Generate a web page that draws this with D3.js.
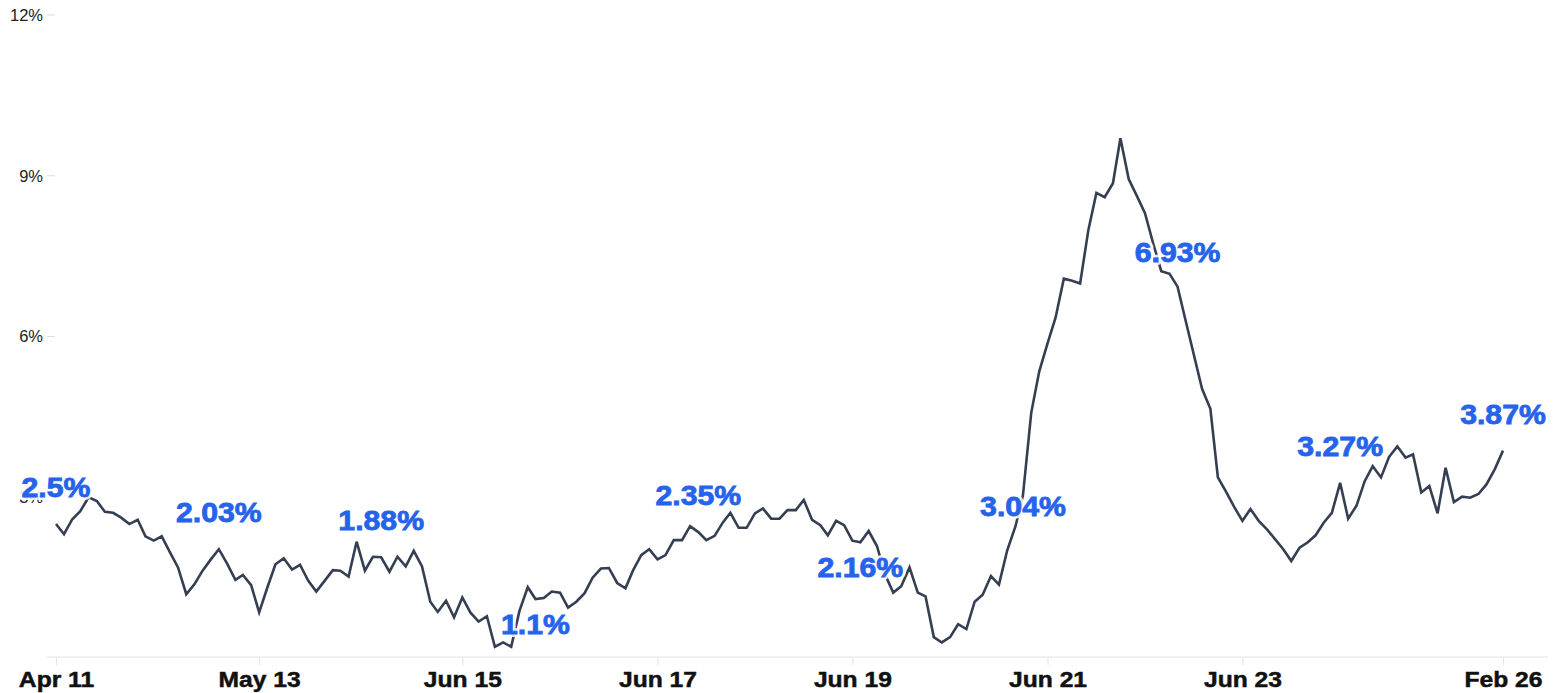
<!DOCTYPE html>
<html>
<head>
<meta charset="utf-8">
<script src="https://cdn.jsdelivr.net/npm/d3@7"></script>
<style>
  html, body { margin: 0; padding: 0; background: #fff; }
  svg { display: block; font-family: "Liberation Sans", Arial, Helvetica, sans-serif; }
</style>
</head>
<body>
<svg id="chart"></svg>
<script>
// monthly series, first month Apr 2011
var firstMonth = "Apr 11";

var rates = [
  2.5, 2.31, 2.59, 2.74, 3.00, 2.93, 2.73, 2.71, 2.62, 2.50,
  2.58, 2.27, 2.19, 2.27, 1.97, 1.69, 1.19, 1.38, 1.63, 1.84,
  2.03, 1.76, 1.46, 1.55, 1.36, 0.85, 1.32, 1.75, 1.86, 1.65,
  1.74, 1.44, 1.24, 1.44, 1.64, 1.63, 1.52, 2.17, 1.63, 1.89,
  1.88, 1.61, 1.89, 1.71, 2.00, 1.71, 1.05, 0.86, 1.07, 0.76,
  1.13, 0.85, 0.68, 0.78, 0.21, 0.29, 0.21, 0.88, 1.32, 1.1,
  1.12, 1.24, 1.22, 0.94, 1.05, 1.21, 1.50, 1.67, 1.68, 1.40,
  1.30, 1.63, 1.92, 2.03, 1.84, 1.92, 2.20, 2.20, 2.46, 2.35,
  2.20, 2.28, 2.53, 2.71, 2.43, 2.43, 2.70, 2.79, 2.60, 2.60,
  2.76, 2.76, 2.95, 2.58, 2.48, 2.29, 2.56, 2.48, 2.19, 2.16,
  2.37, 2.09, 1.56, 1.22, 1.34, 1.69, 1.22, 1.15, 0.39, 0.29,
  0.39, 0.63, 0.54, 1.05, 1.18, 1.53, 1.37, 2.01, 2.46, 3.04,
  4.58, 5.35, 5.87, 6.35, 7.08, 7.04, 6.99, 7.99, 8.68, 8.60,
  8.86, 9.70, 8.94, 8.63, 8.30, 7.75, 7.22, 7.17, 6.93, 6.28,
  5.66, 5.02, 4.65, 3.37, 3.10, 2.82, 2.56, 2.78, 2.56, 2.40,
  2.22, 2.03, 1.81, 2.06, 2.16, 2.29, 2.53, 2.71, 3.27, 2.60,
  2.84, 3.30, 3.58, 3.37, 3.75, 3.95, 3.74, 3.80, 3.09, 3.21,
  2.70, 3.55, 2.91, 3.01, 2.99, 3.06, 3.24, 3.52, 3.87
];

var xTickLabels = ["Apr 11", "May 13", "Jun 15", "Jun 17", "Jun 19", "Jun 21", "Jun 23", "Feb 26"];
var yTickValues = [3, 6, 9, 12];
var valueLabelCount = 10;

function drawChart(el) {

    var width = 1558,
        height = 693;

    var parse = d3.timeParse("%b %y");
    var start = parse(firstMonth);
    var months = rates.map(function (d, i) { return d3.timeMonth.offset(start, i); });

    var svg = d3.select(el)
        .attr("width", width)
        .attr("height", height);

    var x = d3.scaleTime()
        .domain([months[0], months[months.length - 1]])
        .range([56, 1503]);

    var y = d3.scaleLinear()
        .domain([0, 12])
        .range([658, 15]);

    var baseY = y(0) - 1;

    // x axis
    svg.append("line")
        .attr("x1", 47).attr("x2", 1548)
        .attr("y1", baseY).attr("y2", baseY)
        .attr("stroke", "#e3e3e3")
        .attr("stroke-width", 1);

    var xAxis = svg.append("g")
        .attr("transform", "translate(0," + baseY + ")")
        .call(d3.axisBottom(x)
            .tickValues(xTickLabels.map(parse))
            .tickFormat(d3.timeFormat("%b %y"))
            .tickSize(8));

    xAxis.select(".domain").remove();
    xAxis.selectAll(".tick line").attr("stroke", "#e3e3e3");
    xAxis.selectAll(".tick text")
        .attr("y", 0).attr("dy", 0)
        .attr("transform", "translate(0,30) scale(1.12,1)")
        .attr("fill", "#111")
        .attr("stroke", "#111")
        .attr("stroke-width", 0.5)
        .attr("font-size", 22)
        .attr("font-weight", "bold")
        .attr("font-family", "\"Liberation Sans\", Arial, sans-serif");

    // y axis
    var yAxis = svg.append("g");
    var yt = yAxis.selectAll("g")
        .data(yTickValues)
        .enter().append("g")
        .attr("transform", function (d) { return "translate(0," + y(d) + ")"; });
    yt.append("line")
        .attr("x1", 47).attr("x2", 55)
        .attr("stroke", "#dddddd");
    yt.append("text")
        .attr("x", 43)
        .attr("dy", "0.35em")
        .attr("text-anchor", "end")
        .attr("font-size", 16.5)
        .attr("fill", "#222")
        .text(function (d) { return d + "%"; });

    // series line
    var line = d3.line()
        .x(function (d, i) { return x(months[i]); })
        .y(function (d) { return y(d); });

    svg.append("path")
        .datum(rates)
        .attr("d", line)
        .attr("fill", "none")
        .attr("stroke", "#343f52")
        .attr("stroke-width", 2.6);

    // value labels, spread evenly along the series
    var n = rates.length;
    var labelIdx = d3.range(valueLabelCount).map(function (k) {
        return Math.round(k * (n - 1) / (valueLabelCount - 1));
    });
    var labelDy = [-27, -27, -27, 35, -27, 35, 21, -25, -27, -27];
    var fmt = d3.format(".2~f");

    var labels = svg.append("g")
        .selectAll("g")
        .data(labelIdx)
        .enter().append("g")
        .attr("transform", function (d, k) {
            return "translate(" + x(months[d]) + "," + (y(rates[d]) + labelDy[k]) + ") scale(1.12,1)";
        })
        .attr("text-anchor", "middle")
        .attr("font-size", 27)
        .attr("font-weight", "bold");

    // white halo under the text, lets the line show through faintly
    labels.append("text")
        .attr("fill", "#fff")
        .attr("stroke", "#fff")
        .attr("stroke-width", 6)
        .attr("stroke-linejoin", "round")
        .attr("opacity", 0.85)
        .text(function (d) { return fmt(rates[d]) + "%"; });

    labels.append("text")
        .attr("fill", "#2563eb")
        .attr("stroke", "#2563eb")
        .attr("stroke-width", 0.8)
        .text(function (d) { return fmt(rates[d]) + "%"; });
}

drawChart(document.getElementById("chart"));
</script>
</body>
</html>
